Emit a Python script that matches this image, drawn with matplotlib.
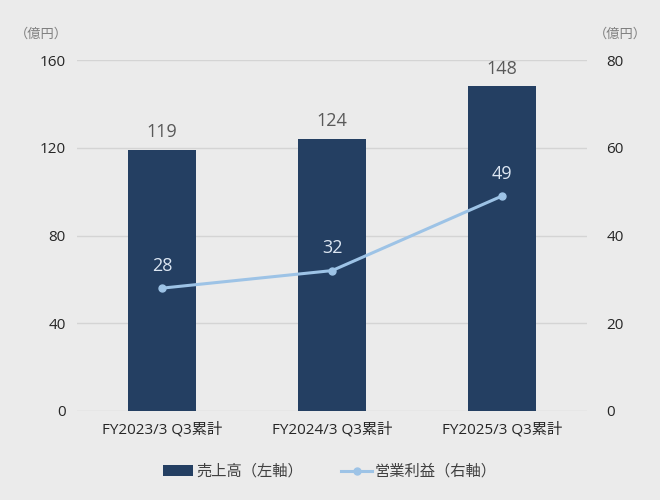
import matplotlib.pyplot as plt
import numpy as np

plt.rcParams['font.family'] = ['Open Sans', 'Noto Sans CJK JP', 'DejaVu Sans']

categories = ["FY2023/3 Q3累計", "FY2024/3 Q3累計", "FY2025/3 Q3累計"]
sales = [119, 124, 148]
op_profit = [28, 32, 49]
left_ticks = [0, 40, 80, 120, 160]
right_ticks = [0, 20, 40, 60, 80]

bg = "#ebebeb"
bar_color = "#243f62"
line_color = "#9dc3e6"

fig = plt.figure(figsize=(6.6, 5.0), dpi=100, facecolor=bg)
ax = fig.add_axes([0.1167, 0.178, 0.7727, 0.702])
ax.set_facecolor(bg)
ax2 = ax.twinx()

x = np.arange(len(categories))
bars = ax.bar(x, sales, width=0.4, color=bar_color, zorder=2, label="売上高（左軸）")
ax.set_xlim(-0.5, 2.5)
ax.set_ylim(0, 160)
ax.set_yticks(left_ticks)
ax.grid(axis="y", color="#d4d4d4", linewidth=1, zorder=0)
ax.set_axisbelow(True)
for s in ax.spines.values():
    s.set_visible(False)
for s in ax2.spines.values():
    s.set_visible(False)
ax.tick_params(axis="both", length=0, labelsize=11, colors="#262626", pad=8)
ax.set_xticks(x)
ax.set_xticklabels(categories, fontsize=11)

for xi, v in zip(x, sales):
    ax.text(xi, v + 4, str(v), ha="center", va="bottom", fontsize=13, color="#595959")

line, = ax2.plot(x, op_profit, color=line_color, linewidth=2.2, marker="o",
                 markersize=5, zorder=3, label="営業利益（右軸）")
ax2.set_ylim(0, 80)
ax2.set_yticks(right_ticks)
ax2.tick_params(axis="y", length=0, labelsize=11, colors="#262626", pad=14)

for xi, v in zip(x, op_profit):
    ax2.text(xi, v + 3.0, str(v), ha="center", va="bottom", fontsize=13, color="#dce6f2")

fig.text(0.023, 0.932, "（億円）", fontsize=9.5, color="#7f7f7f", ha="left", va="center")
fig.text(0.9, 0.932, "（億円）", fontsize=9.5, color="#7f7f7f", ha="left", va="center")

fig.legend(handles=[bars, line], loc="center", bbox_to_anchor=(0.5, 0.055), ncol=2,
           frameon=False, fontsize=11, handlelength=2.0, columnspacing=2.5,
           handletextpad=0.2, labelcolor="#404040")

fig.savefig("out.png", dpi=100, facecolor=bg)
